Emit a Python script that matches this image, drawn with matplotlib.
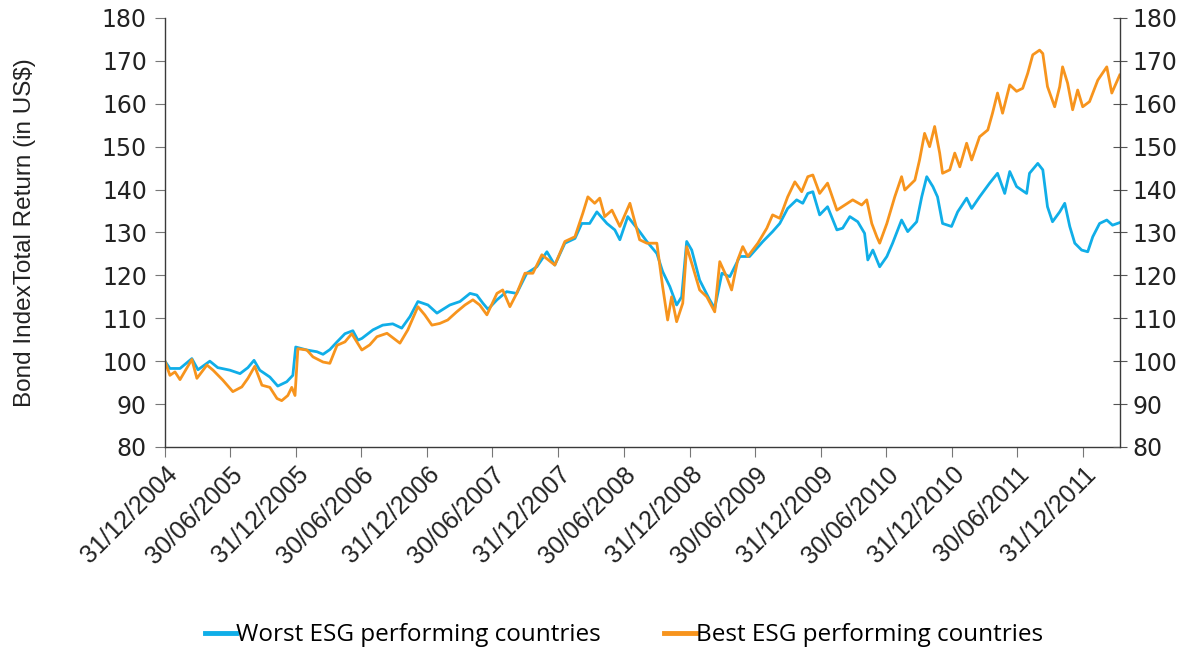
import pandas as pd
import matplotlib.pyplot as plt
import matplotlib.dates as mdates

# values, days counted from 31/12/2004
start_date = '2004-12-31'
end_day = 2657

worst_days = [0, 14, 42, 75, 92, 125, 147, 181, 209, 231, 248, 264, 292, 314, 339, 356, 364,
              395, 423, 440, 459, 479, 501, 523, 537, 548, 579, 606, 634, 659, 682, 704, 732,
              757, 793, 821, 849, 868, 885, 899, 924, 951, 979, 1007, 1035, 1063, 1085, 1113,
              1141, 1160, 1182, 1202, 1230, 1252, 1266, 1288, 1321, 1341, 1369, 1385, 1405,
              1424, 1438, 1452, 1466, 1488, 1516, 1530, 1550, 1572, 1600, 1627, 1664, 1691,
              1711, 1733, 1758, 1775, 1789, 1803, 1822, 1844, 1870, 1886, 1906, 1928, 1947,
              1956, 1970, 1989, 2009, 2025, 2050, 2067, 2092, 2106, 2120, 2137, 2150, 2164,
              2189, 2206, 2231, 2245, 2267, 2295, 2317, 2337, 2351, 2370, 2398, 2406, 2429,
              2443, 2456, 2470, 2490, 2504, 2518, 2532, 2551, 2568, 2582, 2601, 2621, 2637, 2657]
worst_vals = [100.0, 98.3, 98.3, 100.6, 98.0, 100.0, 98.5, 97.9, 97.1, 98.5, 100.2, 97.9, 96.3,
              94.2, 95.2, 96.7, 103.3, 102.6, 102.2, 101.6, 102.7, 104.5, 106.4, 107.1, 104.9,
              105.3, 107.3, 108.4, 108.7, 107.7, 110.4, 113.9, 113.1, 111.2, 113.1, 113.9, 115.8,
              115.4, 113.5, 112.1, 114.3, 116.2, 115.8, 120.5, 122.0, 125.5, 122.4, 127.5, 128.6,
              132.1, 132.1, 134.8, 132.1, 130.6, 128.3, 133.7, 130.2, 127.9, 125.1, 120.9, 117.4,
              113.1, 115.0, 127.9, 125.9, 118.9, 114.3, 112.3, 120.5, 119.7, 124.4, 124.4, 127.9,
              130.2, 132.1, 135.6, 137.6, 136.8, 139.1, 139.5, 134.1, 136.0, 130.6, 131.0, 133.7,
              132.5, 129.8, 123.6, 125.9, 122.0, 124.4, 127.5, 132.9, 130.2, 132.5, 138.3, 143.0,
              140.7, 138.3, 132.1, 131.4, 134.8, 138.0, 135.6, 138.3, 141.5, 143.8, 139.1, 144.2,
              140.7, 139.1, 143.8, 146.1, 144.6, 136.0, 132.5, 134.8, 136.8, 131.4, 127.5, 125.9,
              125.5, 129.0, 132.1, 132.9, 131.7, 132.3]

best_days = [0, 14, 28, 42, 75, 89, 117, 134, 161, 189, 214, 231, 250, 270, 292, 312, 325, 342,
             353, 362, 370, 395, 412, 440, 459, 479, 501, 520, 548, 570, 590, 618, 654, 676, 704,
             723, 743, 765, 787, 812, 835, 857, 876, 896, 924, 940, 960, 979, 1002, 1024, 1049,
             1085, 1113, 1141, 1163, 1177, 1196, 1210, 1224, 1244, 1266, 1294, 1321, 1341, 1369,
             1385, 1399, 1410, 1424, 1441, 1452, 1469, 1488, 1508, 1530, 1544, 1563, 1577, 1594,
             1608, 1622, 1650, 1675, 1691, 1711, 1733, 1753, 1772, 1789, 1803, 1822, 1844, 1870,
             1892, 1914, 1939, 1953, 1967, 1981, 1989, 2009, 2031, 2050, 2059, 2087, 2100, 2114,
             2128, 2142, 2156, 2164, 2184, 2198, 2212, 2231, 2245, 2267, 2290, 2303, 2317, 2331,
             2351, 2370, 2387, 2401, 2415, 2434, 2443, 2456, 2476, 2490, 2498, 2512, 2526, 2540,
             2554, 2573, 2596, 2621, 2635, 2657]
best_vals = [100.0, 96.7, 97.5, 95.7, 100.4, 96.0, 99.1, 97.9, 95.6, 92.9, 94.0, 96.0, 98.8,
             94.4, 93.9, 91.3, 90.8, 92.0, 93.9, 92.0, 102.9, 102.6, 101.0, 99.8, 99.5, 103.7,
             104.5, 106.4, 102.6, 103.8, 105.7, 106.5, 104.2, 107.3, 112.7, 110.8, 108.4, 108.8,
             109.6, 111.5, 113.1, 114.3, 113.1, 110.8, 115.8, 116.6, 112.7, 115.8, 120.5, 120.5,
             124.8, 122.4, 127.9, 129.0, 134.5, 138.3, 136.8, 138.0, 133.7, 135.2, 131.4, 136.8,
             128.3, 127.5, 127.5, 117.4, 109.6, 115.0, 109.2, 113.5, 126.7, 122.0, 116.6, 115.0,
             111.5, 123.2, 119.7, 116.6, 123.6, 126.7, 124.4, 127.5, 131.0, 134.1, 133.3, 138.3,
             141.8, 139.5, 143.0, 143.4, 139.1, 141.5, 135.2, 136.4, 137.6, 136.4, 137.6, 132.1,
             129.0, 127.5, 132.1, 138.3, 143.0, 139.9, 142.2, 146.9, 153.1, 150.0, 154.7, 148.5,
             143.8, 144.6, 148.5, 145.3, 150.8, 146.9, 152.3, 153.9, 157.8, 162.5, 157.8, 164.4,
             162.9, 163.6, 167.1, 171.4, 172.5, 171.7, 164.0, 159.3, 164.0, 168.6, 164.8, 158.6,
             163.2, 159.3, 160.5, 165.5, 168.6, 162.5, 166.7]

tick_labels = ['31/12/2004', '30/06/2005', '31/12/2005', '30/06/2006', '31/12/2006',
               '30/06/2007', '31/12/2007', '30/06/2008', '31/12/2008', '30/06/2009',
               '31/12/2009', '30/06/2010', '31/12/2010', '30/06/2011', '31/12/2011']
y_ticks = [80, 90, 100, 110, 120, 130, 140, 150, 160, 170, 180]

base = pd.Timestamp(start_date)
worst_dates = base + pd.to_timedelta(worst_days, unit='D')
best_dates = base + pd.to_timedelta(best_days, unit='D')
tick_dates = pd.to_datetime(tick_labels, dayfirst=True)

axis_col = '#3a3a3a'
fig = plt.figure(figsize=(11.95, 6.53), dpi=100)
ax = fig.add_axes([0.138, 0.3155, 0.799, 0.657])

ax.plot(worst_dates, worst_vals, color='#10aee8', lw=2.0, label='Worst ESG performing countries')
ax.plot(best_dates, best_vals, color='#f7941d', lw=2.0, label='Best ESG performing countries')

ax.set_xlim(base, base + pd.Timedelta(days=end_day))
ax.set_ylim(80, 180)
ax.set_yticks(y_ticks)
ax.set_xticks(tick_dates)
ax.xaxis.set_major_formatter(mdates.DateFormatter('%d/%m/%Y'))
plt.setp(ax.get_xticklabels(), rotation=45, ha='right', rotation_mode='anchor',
         fontsize=18, family='Liberation Sans', color='#222222')
ax.tick_params(axis='y', direction='out', length=7, color='#777777', labelsize=17,
               labelcolor='#222222', pad=6)
ax.tick_params(axis='x', direction='out', length=7, color='#777777', pad=4)
ax.set_ylabel('Bond IndexTotal Return (in US$)', fontsize=17.5, family='Liberation Sans',
              color='#222222')
ax.yaxis.set_label_coords(-0.135, 0.5)

ax2 = ax.twinx()
ax2.set_ylim(80, 180)
ax2.set_yticks(y_ticks)
ax2.tick_params(axis='y', direction='inout', length=10, color='#555555', labelsize=17,
                labelcolor='#222222', pad=4)

for a in (ax, ax2):
    a.spines['top'].set_visible(False)
    for s in ('left', 'right', 'bottom'):
        a.spines[s].set_color(axis_col)
        a.spines[s].set_linewidth(1.0)
ax2.spines['left'].set_visible(False)
ax2.spines['bottom'].set_visible(False)
ax.spines['right'].set_visible(False)

leg = fig.legend(loc='center', bbox_to_anchor=(0.522, 0.027), ncol=2, frameon=False,
                 prop={'family': 'Open Sans', 'size': 17.5}, handlelength=1.3,
                 handletextpad=0.0, columnspacing=2.6)
for line in leg.get_lines():
    line.set_linewidth(3.5)

fig.savefig('out.png', dpi=100)
